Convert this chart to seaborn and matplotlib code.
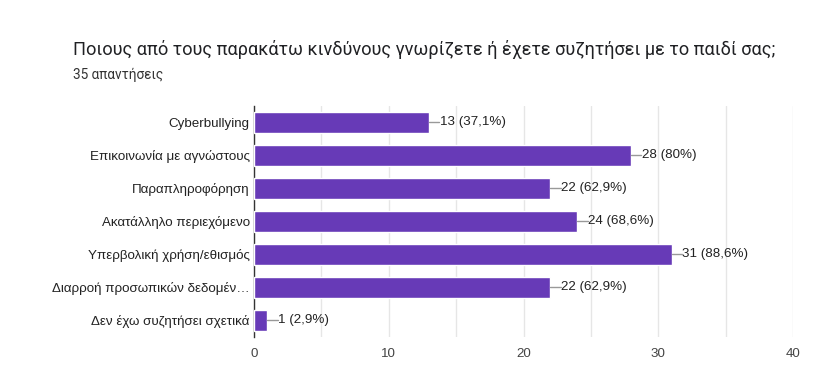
import matplotlib
matplotlib.use("Agg")
import matplotlib.pyplot as plt
import seaborn as sns
import pandas as pd

categories = [
    "Cyberbullying",
    "Επικοινωνία με αγνώστους",
    "Παραπληροφόρηση",
    "Ακατάλληλο περιεχόμενο",
    "Υπερβολική χρήση/εθισμός",
    "Διαρροή προσωπικών δεδομέν…",
    "Δεν έχω συζητήσει σχετικά",
]
counts = [13, 28, 22, 24, 31, 22, 1]
percents = ["37,1%", "80%", "62,9%", "68,6%", "88,6%", "62,9%", "2,9%"]

df = pd.DataFrame({"option": categories, "count": counts})

sns.set_theme(style="white")
plt.rcParams["font.family"] = ["Liberation Sans", "DejaVu Sans"]

fig = plt.figure(figsize=(8.29, 3.7), dpi=100)
ax = fig.add_axes([0.3064, 0.0905, 0.6502, 0.6230])

sns.barplot(data=df, x="count", y="option", color="#673ab7", saturation=1,
            width=0.64, ax=ax, zorder=3)

ax.set_xlim(0, 40)
ax.set_ylim(6.5, -0.5)
ax.set_xticks([0, 10, 20, 30, 40])
ax.set_xticks([5, 15, 25, 35], minor=True)
ax.grid(axis="x", which="both", color="#e6e6e6", linewidth=1, zorder=0)
ax.set_xlabel("")
ax.set_ylabel("")
for s in ["top", "right", "bottom"]:
    ax.spines[s].set_visible(False)
ax.spines["left"].set_color("#333333")
ax.spines["left"].set_linewidth(1)
ax.tick_params(axis="y", length=0, labelsize=9.6, labelcolor="#222222", pad=3)
ax.tick_params(axis="x", which="both", length=0, labelsize=9.6, labelcolor="#444444", pad=8)

for i, (c, p) in enumerate(zip(counts, percents)):
    ax.plot([c, c + 0.75], [i, i], color="#999999", linewidth=1, zorder=4)
    ax.text(c + 0.78, i, f"{c} ({p})", va="center", ha="left",
            fontsize=9.6, color="#222222")

fig.text(0.088, 0.865, "Ποιους από τους παρακάτω κινδύνους γνωρίζετε ή έχετε συζητήσει με το παιδί σας;",
         fontsize=13.05, color="#202124", va="center", family=["Roboto", "DejaVu Sans"])
fig.text(0.088, 0.798, "35 απαντήσεις", fontsize=9.8, color="#333333", va="center",
         family=["Roboto", "DejaVu Sans"])

fig.savefig("out.png", dpi=100)
